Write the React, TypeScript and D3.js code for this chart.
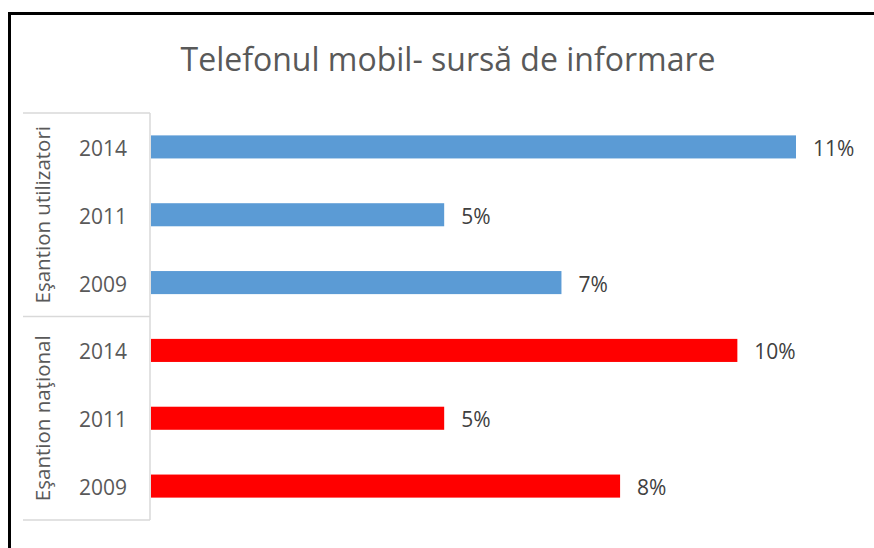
import React from "react";
import * as d3 from "d3";

const groups = ["Eşantion utilizatori", "Eşantion naţional"];
const years = ["2014", "2011", "2009"];
const utilizatori = [11, 5, 7];
const national = [10, 5, 8];
const title = "Telefonul mobil- sursă de informare";
const colors = ["#5B9BD5", "#FF0000"];

const W = 874;
const H = 548;
const FONT = "'Open Sans', 'Noto Sans', sans-serif";

export default function App() {
  const rows = [
    ...years.map((y, i) => ({ key: `u-${y}`, year: y, value: utilizatori[i], g: 0 })),
    ...years.map((y, i) => ({ key: `n-${y}`, year: y, value: national[i], g: 1 })),
  ];
  const y = d3.scaleBand<string>().domain(rows.map((r) => r.key)).range([113, 520]).paddingInner(0.66).paddingOuter(0.33);
  const x = d3.scaleLinear().domain([0, 11]).range([151, 796]);
  const step = y.step();
  const bw = y.bandwidth();
  const groupTop = (g: number) => 113 + g * 3 * step;
  return (
    <svg width={W} height={H} style={{ position: "absolute", left: 0, top: 0 }} fontFamily={FONT}>
      <rect x={0} y={0} width={W} height={H} fill="#fff" />
      <line x1={9.5} y1={13.5} x2={W} y2={13.5} stroke="#000" strokeWidth={3} />
      <line x1={9.5} y1={12} x2={9.5} y2={H} stroke="#000" strokeWidth={3} />
      <text x={448} y={71} textAnchor="middle" fontSize={32} fill="#595959">{title}</text>
      {rows.map((r) => (
        <g key={r.key}>
          <rect x={x(0)} y={y(r.key)!} width={x(r.value) - x(0)} height={bw} fill={colors[r.g]} />
          <text x={x(r.value) + 17} y={y(r.key)! + bw / 2 + 1} dominantBaseline="central" fontSize={21} fill="#404040">{`${r.value}%`}</text>
          <text x={103} y={y(r.key)! + bw / 2 + 1} dominantBaseline="central" textAnchor="middle" fontSize={21} fill="#595959">{r.year}</text>
        </g>
      ))}
      {groups.map((g, i) => (
        <text key={g} transform={`translate(42,${groupTop(i) + 1.5 * step}) rotate(-90)`} textAnchor="middle" dominantBaseline="central" fontSize={20.5} fill="#595959">{g}</text>
      ))}
      {[0, 1, 2].map((i) => (
        <line key={i} x1={23} x2={150} y1={groupTop(i)} y2={groupTop(i)} stroke="#D9D9D9" strokeWidth={1.5} />
      ))}
      <line x1={150} x2={150} y1={113} y2={520} stroke="#D9D9D9" strokeWidth={1.5} />
    </svg>
  );
}
